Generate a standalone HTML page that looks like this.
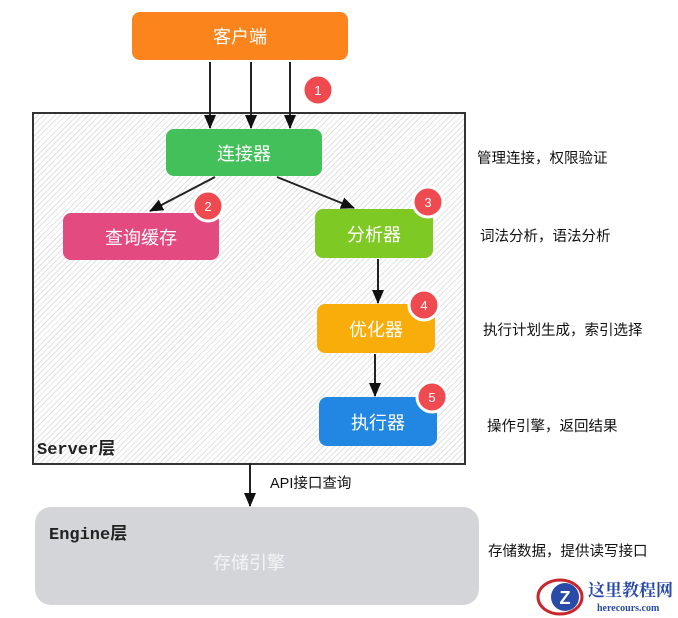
<!DOCTYPE html>
<html><head><meta charset="utf-8"><style>
body{margin:0;width:678px;height:618px;background:#fff;position:relative;overflow:hidden;font-family:"Liberation Sans","Noto Sans CJK SC",sans-serif}
.b{position:absolute;border-radius:8px;color:#fff;font-size:18px;display:flex;align-items:center;justify-content:center}
.t{position:absolute;font-size:14.5px;color:#111;white-space:nowrap}
.m{position:absolute;font-family:"Liberation Mono","Noto Sans CJK SC",monospace;font-size:17px;font-weight:bold;color:#222}
</style></head><body>
<div style="position:absolute;left:32px;top:112px;width:430px;height:349px;border:2px solid #333;background:repeating-linear-gradient(135deg,#fff 0 3px,#e2e2e2 3px 4px)"></div>
<div class="b" style="left:132px;top:12px;width:216px;height:48px;background:#fb841c">客户端</div>
<div class="b" style="left:166px;top:129px;width:156px;height:47px;background:#43c05a">连接器</div>
<div class="b" style="left:63px;top:213px;width:156px;height:47px;background:#e24a80">查询缓存</div>
<div class="b" style="left:315px;top:209px;width:118px;height:49px;background:#7fc924">分析器</div>
<div class="b" style="left:317px;top:304px;width:118px;height:49px;background:#f8ad0a">优化器</div>
<div class="b" style="left:319px;top:397px;width:118px;height:49px;background:#2187e2">执行器</div>
<div style="position:absolute;left:35px;top:507px;width:444px;height:98px;border-radius:16px;background:#d3d5d8"></div>
<div class="m" style="left:37px;top:434px">Server层</div>
<div class="m" style="left:49px;top:519px">Engine层</div>
<div class="t" style="left:213px;top:549px;font-size:18px;color:#f4f4f4">存储引擎</div>
<div class="t" style="left:270px;top:472px">API接口查询</div>
<div class="t" style="left:477px;top:147px">管理连接，权限验证</div>
<div class="t" style="left:480px;top:225px">词法分析，语法分析</div>
<div class="t" style="left:483px;top:319px">执行计划生成，索引选择</div>
<div class="t" style="left:487px;top:415px">操作引擎，返回结果</div>
<div class="t" style="left:488px;top:540px">存储数据，提供读写接口</div>
<svg width="678" height="618" style="position:absolute;left:0;top:0">
<defs><marker id="a" markerWidth="14" markerHeight="12" refX="13" refY="6" orient="auto" markerUnits="userSpaceOnUse"><path d="M0,0L14,6L0,12z" fill="#111"/></marker></defs>
<g stroke="#222" stroke-width="2" fill="none" marker-end="url(#a)">
<line x1="210" y1="62" x2="210" y2="128"/><line x1="251" y1="62" x2="251" y2="128"/><line x1="290" y1="62" x2="290" y2="128"/>
<line x1="215" y1="177" x2="150" y2="211"/><line x1="277" y1="177" x2="354" y2="208"/>
<line x1="378" y1="259" x2="378" y2="303"/><line x1="375" y1="354" x2="375" y2="396"/>
<line x1="250" y1="463" x2="250" y2="506"/>
</g>
<g fill="#ee4a50" stroke="#fff" stroke-width="3">
<circle cx="318" cy="90" r="15"/><circle cx="208" cy="206" r="15"/><circle cx="428" cy="202" r="15"/><circle cx="424" cy="305" r="15"/><circle cx="432" cy="397" r="15"/>
</g>
<g fill="#fff" font-size="13" font-family="Liberation Sans" text-anchor="middle">
<text x="318" y="95">1</text><text x="208" y="211">2</text><text x="428" y="207">3</text><text x="424" y="310">4</text><text x="432" y="402">5</text>
</g>
<ellipse cx="560" cy="597" rx="22" ry="17" fill="none" stroke="#c8262a" stroke-width="3"/>
<circle cx="565" cy="597" r="14" fill="#2a4aa8"/>
<text x="565" y="604" fill="#fff" font-size="18" font-weight="bold" text-anchor="middle" font-family="Liberation Sans">Z</text>
<text x="588" y="596" fill="#2a4aa8" font-size="17" font-weight="bold" font-family="Liberation Serif,Noto Serif CJK SC,serif">这里教程网</text>
<text x="597" y="611" fill="#2a4aa8" font-size="10" font-weight="bold" font-family="Liberation Serif,serif">herecours.com</text>
</svg>
</body></html>
